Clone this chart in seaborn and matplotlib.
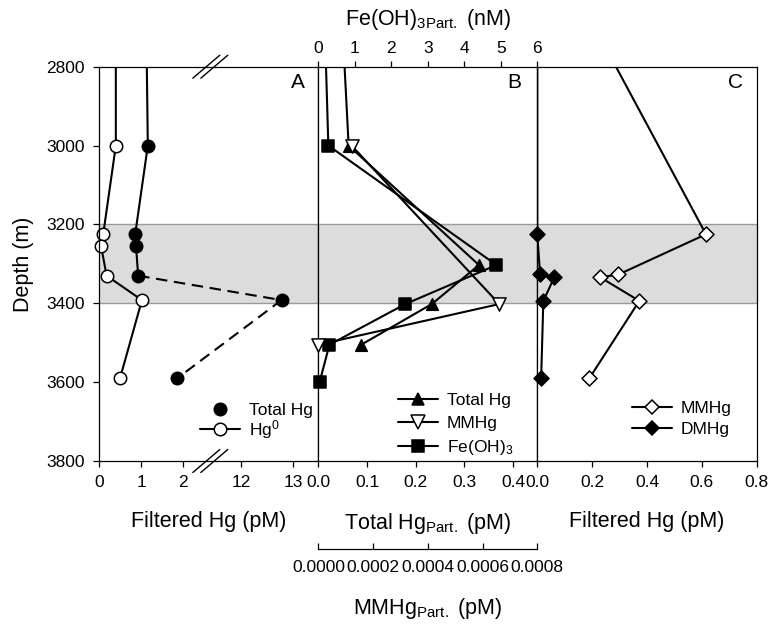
import numpy as np
import pandas as pd
import matplotlib
matplotlib.use("Agg")
import matplotlib.pyplot as plt
import seaborn as sns
from matplotlib.lines import Line2D
from matplotlib.ticker import FixedLocator, NullLocator, FuncFormatter

# ---------------- data ----------------
# Panel A: filtered Hg (pM)
depth_a = [2500, 3000, 3225, 3255, 3330, 3392, 3590]
total_hg_filt = [1.10, 1.16, 0.86, 0.88, 0.93, 12.77, 1.86]
hg0_filt = [0.40, 0.40, 0.10, 0.05, 0.18, 1.02, 0.50]
dashed_from = 3330  # Total Hg drawn dashed below this depth

# Panel B: particulate phases
depth_b = [2500, 3000, 3303, 3402, 3505, 3600]
total_hg_part = [0.041, 0.062, 0.330, 0.233, 0.088, np.nan]   # pM
mmhg_part = [np.nan, 0.000121, np.nan, 0.000661, 0.0, np.nan]  # pM
feoh3_part = [0.11, 0.27, 4.88, 2.38, 0.30, 0.03]             # nM

# Panel C: filtered methylated Hg (pM)
depth_c = [2500, 3225, 3327, 3334, 3394, 3590]
mmhg_filt = [0.055, 0.615, 0.296, 0.229, 0.372, 0.19]
dmhg_filt = [0.0, 0.0, 0.010, 0.062, 0.022, 0.014]

depth_ticks = [2800, 3000, 3200, 3400, 3600, 3800]
ticks_a = [0, 1, 2, 12, 13]
ticks_b = [0.0, 0.1, 0.2, 0.3, 0.4]
ticks_fe = [0, 1, 2, 3, 4, 5, 6]
ticks_mm = [0.0, 0.0002, 0.0004, 0.0006, 0.0008]
ticks_c = [0.0, 0.2, 0.4, 0.6, 0.8]
layer = (3200, 3400)

# ---------------- style ----------------
sns.set_theme(style="ticks")
plt.rcParams["font.family"] = ["Liberation Sans", "DejaVu Sans"]
plt.rcParams["mathtext.fontset"] = "custom"
plt.rcParams["mathtext.rm"] = "Liberation Sans"
plt.rcParams["mathtext.it"] = "Liberation Sans:italic"
plt.rcParams["mathtext.bf"] = "Liberation Sans:bold"
plt.rcParams["axes.linewidth"] = 0.9
plt.rcParams["xtick.major.width"] = 0.9
plt.rcParams["ytick.major.width"] = 0.9
plt.rcParams["xtick.major.size"] = 4
plt.rcParams["ytick.major.size"] = 4
for key in ("xtick.color", "ytick.color", "axes.edgecolor", "text.color",
            "axes.labelcolor", "xtick.labelcolor", "ytick.labelcolor"):
    plt.rcParams[key] = "black"

TICK_FS = 12.5
LABEL_FS = 15.5
LW = 1.5

fig = plt.figure(figsize=(7.73, 6.25), dpi=100)
bottom, height = 0.2624, 0.6309
axA = fig.add_axes([0.12807, bottom, 0.28396, height])
axB = fig.add_axes([0.41203, bottom, 0.28305, height])
axC = fig.add_axes([0.69509, bottom, 0.28383, height])

# ---------------- broken x scale for panel A ----------------
BREAK_LO, BREAK_HI = 2.64, 11.4
HI_STRETCH = 52.0 / 42.0


def fwd(x):
    x = np.asarray(x, dtype=float)
    return np.where(x <= BREAK_LO, x,
                    np.where(x >= BREAK_HI, BREAK_LO + (x - BREAK_HI) * HI_STRETCH, BREAK_LO))


def inv(u):
    u = np.asarray(u, dtype=float)
    return np.where(u <= BREAK_LO, u, BREAK_HI + (u - BREAK_LO) / HI_STRETCH)


axA.set_xscale("function", functions=(fwd, inv))
A_MAX = 13.48


def profile(ax, depth, values, z, dashes=None):
    """Connecting line of a depth profile (clipped to the panel)."""
    df = pd.DataFrame({"depth": depth, "v": values}).dropna()
    kw = {}
    if dashes is not None:
        kw["dashes"] = dashes
    sns.lineplot(data=df, x="v", y="depth", ax=ax, sort=False, estimator=None,
                 color="black", lw=LW, zorder=z, **kw)


def points(ax, depth, values, marker, face, size, z, top=2800):
    """Sample markers of a depth profile (not clipped at the panel edges)."""
    df = pd.DataFrame({"depth": depth, "v": values}).dropna()
    df = df[df["depth"] >= top]
    sns.scatterplot(data=df, x="v", y="depth", ax=ax, marker=marker, s=size,
                    color=face, edgecolor="black", linewidth=1.1, zorder=z,
                    clip_on=False, legend=False)


# ---------------- panel A ----------------
dfA = pd.DataFrame({"depth": depth_a, "thg": total_hg_filt, "hg0": hg0_filt})
solid = dfA[dfA["depth"] <= dashed_from]
dashed = dfA[dfA["depth"] >= dashed_from]
profile(axA, dfA["depth"], dfA["hg0"], 3)
points(axA, dfA["depth"], dfA["hg0"], "o", "white", 80, 4)
profile(axA, solid["depth"], solid["thg"], 5)
profile(axA, dashed["depth"], dashed["thg"], 5, dashes=(5.5, 3.2))
points(axA, dfA["depth"], dfA["thg"], "o", "black", 80, 6)

# ---------------- panel B ----------------
axFe = axB.twiny()
axMM = axB.twiny()
profile(axFe, depth_b, feoh3_part, 3)
points(axFe, depth_b, feoh3_part, "s", "black", 72, 4)
profile(axMM, depth_b, mmhg_part, 3)
points(axMM, depth_b, mmhg_part, "v", "white", 90, 4)
profile(axB, depth_b, total_hg_part, 3)
points(axB, depth_b, total_hg_part, "^", "black", 70, 4)

# ---------------- panel C ----------------
profile(axC, depth_c, mmhg_filt, 3)
points(axC, depth_c, mmhg_filt, "D", "white", 58, 4)
profile(axC, depth_c, dmhg_filt, 5)
points(axC, depth_c, dmhg_filt, "D", "black", 58, 6)

# ---------------- axes formatting ----------------
for ax in (axA, axB, axC, axFe, axMM):
    ax.set_ylim(3800, 2800)
    ax.set_ylabel("")
    ax.set_xlabel("")

for ax in (axA, axB, axC):
    ax.axhspan(layer[0], layer[1], color="#dcdcdc", lw=0, zorder=0.5)
    for d in layer:
        ax.axhline(d, color="#9a9a9a", lw=1.0, zorder=0.6)
    for s in ax.spines.values():
        s.set_visible(True)
        s.set_color("black")
        s.set_zorder(7)

axA.set_xlim(0, A_MAX)
axA.xaxis.set_major_locator(FixedLocator(ticks_a))
axA.xaxis.set_minor_locator(NullLocator())
axA.xaxis.set_major_formatter(FuncFormatter(lambda v, p: f"{v:.0f}"))
axA.yaxis.set_major_locator(FixedLocator(depth_ticks))
axA.yaxis.set_major_formatter(FuncFormatter(lambda v, p: f"{v:.0f}"))
axA.tick_params(axis="both", direction="out", labelsize=TICK_FS, pad=6)
axA.tick_params(axis="y", pad=6)
axA.set_ylabel("Depth (m)", fontsize=LABEL_FS, labelpad=9)
axA.set_xlabel("Filtered Hg (pM)", fontsize=LABEL_FS, labelpad=15)

axB.set_xlim(0, 0.45)
axB.xaxis.set_major_locator(FixedLocator(ticks_b))
axB.xaxis.set_major_formatter(FuncFormatter(lambda v, p: f"{v:.1f}"))
axB.tick_params(axis="x", direction="out", labelsize=TICK_FS, pad=6)
axB.set_yticks([])
axB.set_xlabel("Total Hg$_{\\mathrm{Part.}}$ (pM)", fontsize=LABEL_FS, labelpad=15)

axFe.set_xlim(0, 6)
axFe.xaxis.set_major_locator(FixedLocator(ticks_fe))
axFe.xaxis.set_major_formatter(FuncFormatter(lambda v, p: f"{v:.0f}"))
axFe.tick_params(axis="x", direction="out", labelsize=TICK_FS, pad=4)
axFe.set_xlabel("Fe(OH)$_{\\mathrm{3Part.}}$ (nM)", fontsize=LABEL_FS, labelpad=11)
for s in axFe.spines.values():
    s.set_visible(False)
axFe.set_yticks([])

axMM.set_xlim(0, 0.0008)
axMM.xaxis.set_ticks_position("bottom")
axMM.xaxis.set_label_position("bottom")
axMM.xaxis.set_major_locator(FixedLocator(ticks_mm))
axMM.xaxis.set_major_formatter(FuncFormatter(lambda v, p: f"{v:.4f}"))
for name, s in axMM.spines.items():
    s.set_visible(name == "bottom")
axMM.spines["bottom"].set_position(("outward", 63.5))
axMM.tick_params(axis="x", direction="in", labelsize=TICK_FS, pad=8)
axMM.set_yticks([])
axMM.set_xlabel("MMHg$_{\\mathrm{Part.}}$ (pM)", fontsize=LABEL_FS, labelpad=15)

axC.set_xlim(0, 0.8)
axC.xaxis.set_major_locator(FixedLocator(ticks_c))
axC.xaxis.set_major_formatter(FuncFormatter(lambda v, p: f"{v:.1f}"))
axC.tick_params(axis="x", direction="out", labelsize=TICK_FS, pad=6)
axC.set_yticks([])
axC.set_xlabel("Filtered Hg (pM)", fontsize=LABEL_FS, labelpad=15)

# break marks on panel A
brk = float(fwd(BREAK_LO) / fwd(A_MAX))
dx, dy = 13.5 / 219.5, 11.5 / 394.3
for yb in (0.0, 1.0):
    for off in (-3.8 / 219.5, 4.2 / 219.5):
        axA.plot([brk + off - dx, brk + off + dx], [yb - dy, yb + dy], color="black",
                 lw=1.0, transform=axA.transAxes, clip_on=False, zorder=8)

# panel letters
for ax, letter, xr in ((axA, "A", 1 - 13.5 / 219.5), (axB, "B", 1 - 15.6 / 218.8),
                       (axC, "C", 1 - 13.4 / 219.4)):
    ax.text(xr, 0.96, letter, transform=ax.transAxes, ha="right", va="center",
            fontsize=15, zorder=9)


# legends
def handle(marker, face, ms, line=True):
    return Line2D([], [], color="black", lw=LW, ls="-" if line else "none",
                  marker=marker, markersize=ms, markerfacecolor=face,
                  markeredgecolor="black", markeredgewidth=1.1)


leg_kw = dict(frameon=False, fontsize=TICK_FS, handlelength=2.3, handletextpad=0.5,
              borderpad=0, borderaxespad=0, loc="upper left")
axA.legend([handle("o", "black", 9, line=False), handle("o", "white", 9)],
           ["Total Hg", "Hg$^{0}$"], bbox_to_anchor=(0.46, 0.148), labelspacing=0.0,
           **leg_kw)
axB.legend([handle("^", "black", 8.4), handle("v", "white", 9.5), handle("s", "black", 8.5)],
           ["Total Hg", "MMHg", "Fe(OH)$_{3}$"], bbox_to_anchor=(0.363, 0.172),
           labelspacing=0.42, **leg_kw)
axC.legend([handle("D", "white", 7.6), handle("D", "black", 7.6)],
           ["MMHg", "DMHg"], bbox_to_anchor=(0.43, 0.152), labelspacing=0.35, **leg_kw)

fig.savefig("out.png", dpi=100)
